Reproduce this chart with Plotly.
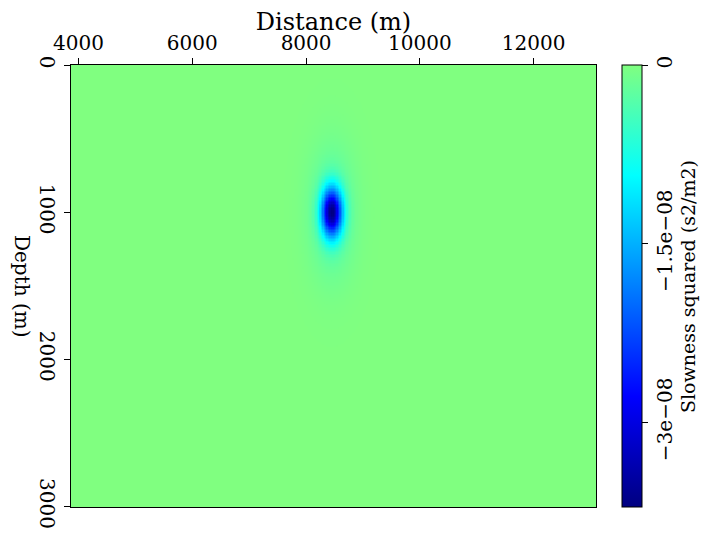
import numpy as np
import plotly.graph_objects as go

# ---- values ----
distance_range = [3868, 13096]        # m (x extent of the model)
depth_range = [0, 3004]               # m (z extent of the model)
distance_step = 25.0
depth_step = 10.0

anomaly_center_x = 8450.0             # m
anomaly_center_z = 1003.0             # m
anomaly_amplitude = -3.71e-08         # s2/m2 (minimum value)
core_sigma_x = 130.0                  # m
core_sigma_z = 118.0                  # m
tail_fraction = 0.10
tail_sigma_x = 280.0
tail_sigma_z = 300.0

x_tick_values = [4000, 6000, 8000, 10000, 12000]
x_tick_labels = ["4000", "6000", "8000", "10000", "12000"]
z_tick_values = [0, 1000, 2000, 3000]
z_tick_labels = ["0", "1000", "2000", "3000"]
cbar_tick_values = [0, -1.5e-08, -3e-08]
cbar_tick_labels = ["0", "\u22121.5e\u221208", "\u22123e\u221208"]

# ---- build field ----
xs = np.arange(distance_range[0], distance_range[1] + distance_step, distance_step)
zs = np.arange(depth_range[0], depth_range[1] + depth_step, depth_step)
X, Z = np.meshgrid(xs, zs)
dx = X - anomaly_center_x
dz = Z - anomaly_center_z
core = np.exp(-(dx**2 / (2 * core_sigma_x**2) + dz**2 / (2 * core_sigma_z**2)))
tail = np.exp(-(dx**2 / (2 * tail_sigma_x**2) + dz**2 / (2 * tail_sigma_z**2)))
field = anomaly_amplitude * ((1 - tail_fraction) * core + tail_fraction * tail)

colorscale = [
    [0.0, "rgb(0,0,128)"],
    [0.25, "rgb(0,0,255)"],
    [0.75, "rgb(0,255,255)"],
    [1.0, "rgb(128,255,128)"],
]

FONT = "DejaVu Serif"
FS = 20
OFF = 8                      # page body margin offset
W, H = 709 - 2 * OFF, 538 - 2 * OFF
L, T = 71 - OFF, 65 - OFF
PW = 596 - 71
PH = 507 - 65
R = W - L - PW
B = H - T - PH

fig = go.Figure(
    go.Heatmap(
        x=xs, y=zs, z=field,
        colorscale=colorscale,
        zmin=anomaly_amplitude, zmax=0,
        colorbar=dict(
            x=(622 - 71) / PW, xanchor="left",
            y=0.5, yanchor="middle", len=1.0, lenmode="fraction",
            xpad=0, ypad=0,
            thickness=20, thicknessmode="pixels",
            outlinewidth=1, outlinecolor="black",
            tickvals=cbar_tick_values, ticktext=cbar_tick_labels,
            ticks="outside", ticklen=6, tickcolor="black",
            tickangle=-90,
            tickfont=dict(family=FONT, size=FS, color="black"),
        ),
    )
)

fig.update_layout(
    width=W, height=H,
    margin=dict(l=L, r=R, t=T, b=B, autoexpand=False),
    paper_bgcolor="white", plot_bgcolor="white",
    font=dict(family=FONT, size=FS, color="black"),
    xaxis=dict(
        side="top", range=distance_range,
        tickvals=x_tick_values, ticktext=x_tick_labels,
        ticks="outside", ticklen=6, tickcolor="black",
        showline=True, linecolor="black", linewidth=1, mirror=True,
        showgrid=False, zeroline=False,
        title=dict(text="Distance (m)", standoff=0),
    ),
    yaxis=dict(
        range=[depth_range[1], depth_range[0]],
        tickvals=z_tick_values, ticktext=z_tick_labels,
        ticks="outside", ticklen=6, tickcolor="black", tickangle=90,
        showline=True, linecolor="black", linewidth=1, mirror=True,
        showgrid=False, zeroline=False,
    ),
    annotations=[
        dict(text="Depth (m)", textangle=90, xref="paper", yref="paper",
             x=(22 - 71) / PW, y=0.5, xanchor="center", yanchor="middle",
             showarrow=False, font=dict(family=FONT, size=FS, color="black")),
        dict(text="Slowness squared (s2/m2)", textangle=-90, xref="paper", yref="paper",
             x=(688 - 71) / PW, y=(507 - 287) / PH, xanchor="center", yanchor="middle",
             showarrow=False, font=dict(family=FONT, size=19, color="black")),
    ],
)

fig.write_html("out.html")
